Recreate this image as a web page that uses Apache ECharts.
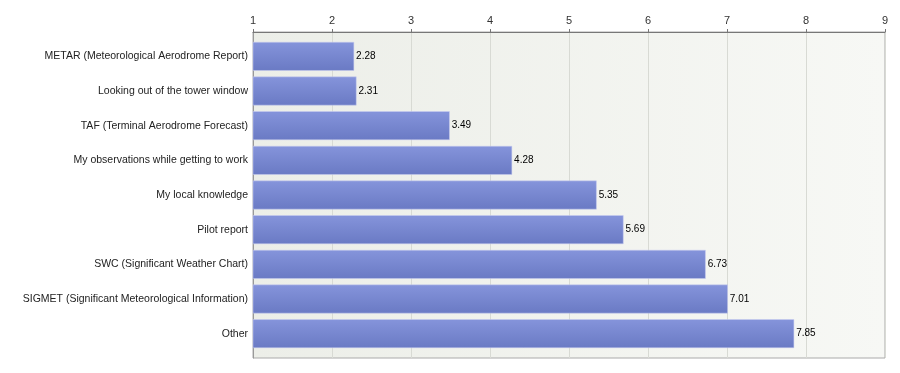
<!DOCTYPE html>
<html><head><meta charset="utf-8">
<script src="https://cdn.jsdelivr.net/npm/echarts@6/dist/echarts.min.js"></script>
<style>html,body{margin:0;padding:0;background:#fff}#c{width:900px;height:373px}</style>
</head><body><div id="c"></div>
<script>
var categories = ["METAR (Meteorological Aerodrome Report)","Looking out of the tower window","TAF (Terminal Aerodrome Forecast)","My observations while getting to work","My local knowledge","Pilot report","SWC (Significant Weather Chart)","SIGMET (Significant Meteorological Information)","Other"];
var values = [2.28,2.31,3.49,4.28,5.35,5.69,6.73,7.01,7.85];
var tickLabels = ["1","2","3","4","5","6","7","8","9"];
var chart = echarts.init(document.getElementById('c'));
chart.setOption({
  animation:false,
  textStyle:{fontFamily:'Liberation Sans, Arial, sans-serif'},
  grid:[
    {left:253,right:15,top:32,bottom:15,show:true,borderColor:'#aaaaaa',borderWidth:1,
     backgroundColor:{type:'linear',x:0,y:0,x2:1,y2:0,colorStops:[{offset:0,color:'#eceee8'},{offset:1,color:'#f7f8f5'}]}},
    {left:253,right:15,top:39,bottom:22}
  ],
  xAxis:[
    {type:'value',gridIndex:0,position:'top',min:1,max:9,interval:1,
     axisLine:{show:true,lineStyle:{color:'#777',width:1}},
     axisTick:{show:true,length:3,lineStyle:{color:'#777'}},
     axisLabel:{color:'#333',fontSize:11,margin:6,formatter:function(v){return tickLabels[Math.round(v)-1];}},
     splitLine:{show:true,lineStyle:{color:'#d8dad4'}}},
    {type:'value',gridIndex:1,min:1,max:9,interval:1,show:false}
  ],
  yAxis:[
    {type:'category',gridIndex:0,data:categories,inverse:true,
     axisLine:{show:true,lineStyle:{color:'#999'}},axisTick:{show:false},axisLabel:{show:false}},
    {type:'category',gridIndex:1,data:categories,inverse:true,
     axisLine:{show:false},axisTick:{show:false},
     axisLabel:{color:'#222',fontSize:10.5,margin:5}}
  ],
  series:[{type:'bar',xAxisIndex:1,yAxisIndex:1,data:values,barCategoryGap:'17%',
    itemStyle:{color:{type:'linear',x:0,y:0,x2:0,y2:1,colorStops:[{offset:0,color:'#8594db'},{offset:1,color:'#6a7ac4'}]},borderColor:'#c8cdf0',borderWidth:0.5},
    label:{show:true,position:'right',distance:2,color:'#000',fontSize:10,formatter:function(p){return p.value.toFixed(2);}}}]
});
</script></body></html>
